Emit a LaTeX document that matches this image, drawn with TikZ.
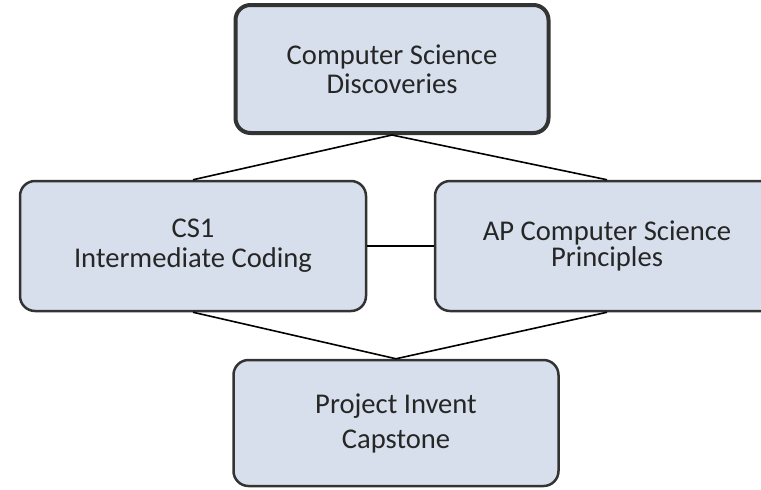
\documentclass[tikz,border=0pt]{standalone}
\usepackage{fontspec}
\setmainfont{Carlito}
\usepackage{tikz}
\usetikzlibrary{positioning}
\definecolor{boxfill}{HTML}{D6DFEB}
\definecolor{boxline}{HTML}{333333}
\definecolor{boxtext}{HTML}{262626}

\begin{document}
\begin{tikzpicture}[
        x=0.5pt,y=-0.5pt,
        course/.style={draw=boxline,fill=boxfill,rounded corners=7.5pt,line width=1.25pt,
          align=center,text=boxtext,font=\fontsize{14.3}{15}\selectfont,inner sep=0pt},
        entry/.style={course,line width=2pt},
        link/.style={draw=black,line width=0.8pt},
        ]

        \clip (0,0) rectangle (761,489);
        \node[entry,minimum width=156.5pt,minimum height=64pt] (csd) at (392,69) {Computer Science\\[-0.5pt]Discoveries};
        \node[course,minimum width=173pt,minimum height=65pt] (cs1) at (193,246) {CS1\\Intermediate Coding};
        \node[course,minimum width=172pt,minimum height=65pt] (csp) at (607,246) {AP Computer Science\\[-2pt]Principles};
        \node[course,minimum width=162.5pt,minimum height=63pt] (pic) at (396,423) {Project Invent\\[2.5pt]Capstone};

        \path[link] (csd.south) -- (cs1.north);
        \path[link] (csd.south) -- (csp.north);
        \path[link] (cs1.east) -- (csp.west);
        \path[link] (cs1.south) -- (pic.north);
        \path[link] (csp.south) -- (pic.north);
      \end{tikzpicture}
\end{document}
